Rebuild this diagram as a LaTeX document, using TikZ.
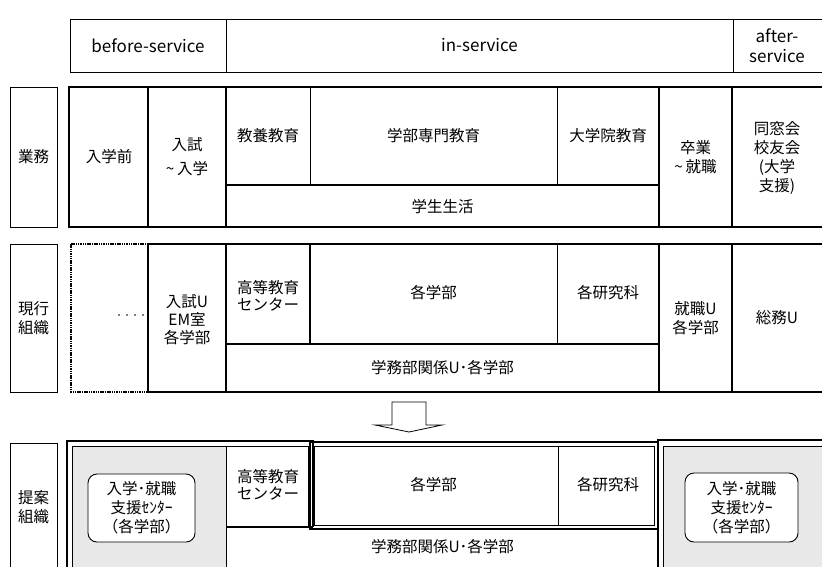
\documentclass[tikz,border=0pt]{standalone}
\usepackage{fontspec}
\setmainfont{Noto Sans CJK JP}
\newcommand\myfs{\fontsize{15.5}{19}\selectfont}
\begin{document}
\begin{tikzpicture}[x=1pt,y=-1pt,
  thk/.style={line width=2.5pt},
  thn/.style={line width=0.8pt},
  dotbox/.style={line width=2pt,dash pattern=on 1.5pt off 0.8pt,black},
  lbl/.style={font=\myfs,align=center,inner sep=0pt},
  hdr/.style={font=\fontsize{17}{20}\selectfont,align=center,inner sep=0pt},
  rbox/.style={draw,line width=0.9pt,rounded corners=9pt,fill=white,minimum width=107pt,minimum height=68pt,font=\myfs,align=center,inner sep=0pt},
  grayfill/.style={fill=black!9},
  blockarrow/.style={draw,line width=0.8pt,fill=white}]
\useasboundingbox (0,0) rectangle (822,566);
\clip (0,0) rectangle (822,566);

% ---------- header ----------
\draw[thn] (70,19) rectangle (830,72);
\draw[thn] (226,19) -- (226,72) (733,19) -- (733,72);
\node[hdr] (h1) at (148,45.5) {before-service};
\node[hdr] (h2) at (479.5,45.5) {in-service};
\node[hdr] (h3) at (777,45.5) {after-\\service};

% ---------- row 1 ----------
\draw[thn] (10,87) rectangle (57,227);
\draw[thk] (69,87) rectangle (830,227);
\draw[thk] (148,87) -- (148,227) (226,87) -- (226,227) (226,185) -- (659,185)
           (659,87) -- (659,227) (732,87) -- (732,227);
\draw[thn] (310,87) -- (310,185) (557,87) -- (557,185);
\node[lbl] (l1) at (33.5,157) {業務};
\node[lbl] (a1) at (109,157) {入学前};
\node[lbl,font=\fontsize{15.5}{24}\selectfont] (a2) at (187,157) {入試\\\textasciitilde\,入学};
\node[lbl] (a3) at (268,136) {教養教育};
\node[lbl] (a4) at (433.5,136) {学部専門教育};
\node[lbl] (a5) at (608,136) {大学院教育};
\node[lbl] (a6) at (442.5,207) {学生生活};
\node[lbl] (a7) at (695.5,157.5) {卒業\\\textasciitilde\,就職};
\node[lbl] (a8) at (777,158) {同窓会\\校友会\\(大学\\支援)};

% ---------- row 2 ----------
\draw[thn] (10,244) rectangle (57,392);
\draw[dotbox] (71,244) rectangle (148,392);
\draw[thk] (148,244) rectangle (830,392);
\draw[thk] (226,244) -- (226,392) (310,244) -- (310,344) (226,344) -- (659,344)
           (659,244) -- (659,392) (732,244) -- (732,392);
\draw[thn] (557,244) -- (557,344);
\node[lbl] (l2) at (33.5,318) {現行\\組織};
\node[lbl,font=\fontsize{8}{10}\selectfont] (b0) at (131,317) {・・・・};
\node[lbl,font=\fontsize{15.5}{18}\selectfont] (b1) at (187,320) {入試U\\EM室\\各学部};
\node[lbl,font=\fontsize{15.5}{17}\selectfont] (b2) at (268,296) {高等教育\\センター};
\node[lbl] (b3) at (433.5,293) {各学部};
\node[lbl] (b4) at (608,293) {各研究科};
\node[lbl] (b5) at (442.5,368) {学務部関係U･各学部};
\node[lbl] (b6) at (695.5,318) {就職U\\各学部};
\node[lbl] (b7) at (777,318) {総務U};

% ---------- arrow ----------
\draw[blockarrow] (392,402) -- (426,402) -- (426,425) -- (442,425) -- (409,432)
                  -- (375,425) -- (392,425) -- cycle;

% ---------- row 3 ----------
\draw[thn] (10,443) rectangle (57,590);
\node[lbl] (l3) at (33.5,507) {提案\\組織};

\fill[grayfill] (72,446) rectangle (226,590);
\fill[grayfill] (663,446) rectangle (830,590);

% left frame
\draw[thk] (67,590) -- (67,441) -- (313,441) -- (313,527);
\draw[thn] (72,590) -- (72,446) -- (308,446) -- (308,527);
\draw[thn] (226,446) -- (226,590);
\draw[thk] (226,527) -- (313,527);
% centre frame
\draw[thk] (310,442) rectangle (658,529);
\draw[thn] (314,446) rectangle (654,525);
\draw[thn] (558,446) -- (558,525);
% right frame
\draw[thk] (658,440) rectangle (830,590);
\draw[thn] (663,446) rectangle (830,590);

\node[lbl,font=\fontsize{15.5}{17}\selectfont] (c2) at (268,485) {高等教育\\センター};
\node[lbl] (c3) at (433.5,485) {各学部};
\node[lbl] (c4) at (608,485) {各研究科};
\node[lbl] (c5) at (442.5,547) {学務部関係U･各学部};
\node[rbox] (c1) at (141.5,508) {入学･就職\\支援ｾﾝﾀｰ\\（各学部）};
\node[rbox,minimum width=113pt,minimum height=69pt] (c6) at (741.5,507.5) {入学･就職\\支援ｾﾝﾀｰ\\（各学部）};
\end{tikzpicture}
\end{document}
